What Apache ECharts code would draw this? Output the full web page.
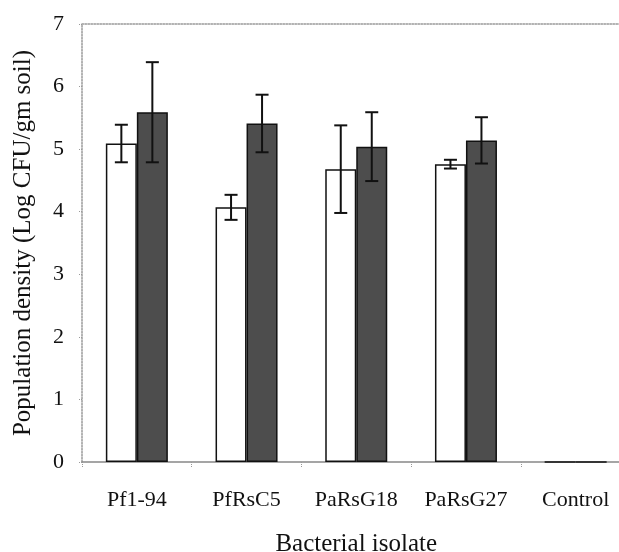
<!DOCTYPE html>
<html>
<head>
<meta charset="utf-8">
<script src="https://cdn.jsdelivr.net/npm/echarts@6/dist/echarts.min.js"></script>
<style>html,body{margin:0;padding:0;background:#fff;}#c{width:619px;height:552px;}</style>
</head>
<body>
<div id="c"></div>
<script>
var categories = ['Pf1-94', 'PfRsC5', 'PaRsG18', 'PaRsG27', 'Control'];
var whiteValues = [5.09, 4.07, 4.68, 4.76, 0];
var whiteErrors = [0.30, 0.20, 0.70, 0.07, 0];
var darkValues = [5.59, 5.41, 5.04, 5.14, 0];
var darkErrors = [0.80, 0.46, 0.55, 0.37, 0];
var yTicks = [0, 1, 2, 3, 4, 5, 6, 7];

var BAR_W = 31;
var FONT = "'Liberation Serif', 'Times New Roman', serif";

function errorSeries(values, errors, offset) {
  var data = categories.map(function (c, i) { return [i, values[i], errors[i]]; });
  return {
    type: 'custom',
    z: 10,
    silent: true,
    data: data,
    renderItem: function (params, api) {
      var i = api.value(0), v = api.value(1), e = api.value(2);
      if (!e) return null;
      var top = api.coord([i, v + e]);
      var bot = api.coord([i, v - e]);
      var x = top[0] + offset;
      var cap = 6.5;
      var st = { stroke: '#111', lineWidth: 2 };
      return {
        type: 'group',
        children: [
          { type: 'line', shape: { x1: x, y1: top[1], x2: x, y2: bot[1] }, style: st },
          { type: 'line', shape: { x1: x - cap, y1: top[1], x2: x + cap, y2: top[1] }, style: st },
          { type: 'line', shape: { x1: x - cap, y1: bot[1], x2: x + cap, y2: bot[1] }, style: st }
        ]
      };
    }
  };
}

var chart = echarts.init(document.getElementById('c'), null, { renderer: 'canvas' });
chart.setOption({
  animation: false,
  backgroundColor: '#fff',
  textStyle: { fontFamily: FONT },
  grid: { left: 82, top: 24, right: -11.5, bottom: 90, containLabel: false, outerBoundsMode: 'none' },
  xAxis: [{
    type: 'category',
    data: categories,
    name: 'Bacterial isolate',
    nameLocation: 'middle',
    nameGap: 70,
    nameTextStyle: { fontFamily: FONT, fontSize: 25, color: '#111' },
    axisLine: { lineStyle: { color: '#888', width: 1.5 } },
    axisTick: { show: true, length: 6, lineStyle: { color: '#999', type: 'dotted' } },
    axisLabel: { interval: 0, fontFamily: FONT, fontSize: 22, color: '#111', margin: 27 },
    splitLine: { show: false }
  }, {
    type: 'category',
    position: 'top',
    data: categories,
    axisLine: { lineStyle: { color: '#999', width: 1.5, type: 'dotted' } },
    axisTick: { show: false },
    axisLabel: { show: false }
  }],
  yAxis: {
    type: 'value',
    min: 0, max: 7, interval: 1,
    name: 'Population density (Log CFU/gm soil)',
    nameLocation: 'middle',
    nameGap: 46,
    nameRotate: 90,
    nameTextStyle: { fontFamily: FONT, fontSize: 25, color: '#111' },
    axisLine: { show: true, lineStyle: { color: '#999', width: 1.5, type: 'dotted' } },
    axisTick: { show: true, length: 4, lineStyle: { color: '#999', type: 'dotted' } },
    axisLabel: { fontFamily: FONT, fontSize: 22, color: '#111', margin: 18,
      formatter: function (v) { return yTicks.indexOf(v) >= 0 ? String(v) : ''; } },
    splitLine: { show: false }
  },
  series: [{
    type: 'bar',
    data: whiteValues,
    barWidth: BAR_W,
    barGap: '0%',
    itemStyle: { color: '#fff', borderColor: '#111', borderWidth: 1.5 }
  }, {
    type: 'bar',
    data: darkValues,
    barWidth: BAR_W,
    barGap: '0%',
    itemStyle: { color: '#4d4d4d', borderColor: '#111', borderWidth: 1.5 }
  },
  errorSeries(whiteValues, whiteErrors, -BAR_W / 2),
  errorSeries(darkValues, darkErrors, BAR_W / 2)
  ]
});
</script>
</body>
</html>
